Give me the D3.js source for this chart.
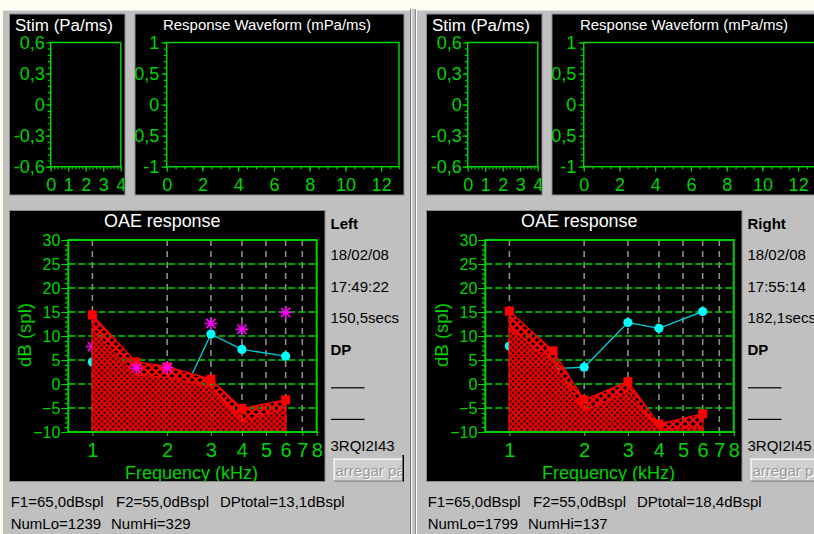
<!DOCTYPE html>
<html><head><meta charset="utf-8">
<script src="https://cdn.jsdelivr.net/npm/d3@7"></script>
<style>
html,body{margin:0;padding:0;background:#c0c0c0;overflow:hidden}
svg{display:block}
text{font-family:"Liberation Sans",Arial,sans-serif}
</style></head><body>
<svg id="c" width="814" height="534"></svg>
<script>
// ---------------- data ----------------
const freqs = [1, 1.5, 2, 3, 4, 6];             // kHz
const leftDP    = [4.6, -3.0, -9.0, 10.4, 7.2, 5.8];
const leftStar  = [7.8, 3.3, 3.4, 12.6, 11.4, 14.9];
const leftUpper = [14.4, 4.6, 3.6, 1.0, -5.1, -3.3];
const leftLower = [11.2, 1.9, 1.4, -0.6, -7.9, -4.9];
const rightDP    = [7.9, 3.2, 3.5, 12.8, 11.6, 15.1];
const rightStar  = [];
const rightUpper = [15.2, 6.9, -3.3, 0.5, -8.3, -6.2];
const rightLower = [11.8, 4.5, -5.6, -1.5, -9.4, -9.0];

const freqTicks = [1, 2, 3, 4, 5, 6, 7, 8];
const freqGrid  = [1, 2, 3, 4, 5, 6, 7];
const dbTicks   = [30, 25, 20, 15, 10, 5, 0, -5, -10];
const dbGrid    = [25, 20, 15, 10, 5, 0, -5];
const stimYTicks = [0.6, 0.3, 0, -0.3, -0.6];
const stimXTicks = [0, 1, 2, 3, 4];
const respYTicks = [1, 0.5, 0, -0.5, -1];
const respXTicks = [0, 2, 4, 6, 8, 10, 12];

const earLabels  = ["Left", "Right"];
const dates      = ["18/02/08", "18/02/08"];
const times      = ["17:49:22", "17:55:14"];
const durations  = ["150,5secs", "182,1secs"];
const ids        = ["3RQI2I43", "3RQI2I45"];
const f1Text     = ["F1=65,0dBspl", "F1=65,0dBspl"];
const f2Text     = ["F2=55,0dBspl", "F2=55,0dBspl"];
const dpTotal    = ["DPtotal=13,1dBspl", "DPtotal=18,4dBspl"];
const numLo      = ["NumLo=1239", "NumLo=1799"];
const numHi      = ["NumHi=329", "NumHi=137"];

// ---------------- setup ----------------
const G = "#00d400";
const W = 814, H = 534;
const svg = d3.select("#c");
const loc = d3.formatLocale({decimal: ",", thousands: ".", grouping: [3], currency: ["", ""], minus: "-"});
const fmt = loc.format("~g");

svg.append("rect").attr("width", W).attr("height", H).attr("fill", "#c0c0c0");
svg.append("rect").attr("width", W).attr("height", 9).attr("fill", "#fffff0");
svg.append("rect").attr("width", 3).attr("height", H).attr("fill", "#fffff0");
svg.append("rect").attr("x", 3).attr("y", 9).attr("width", 407).attr("height", 1.5).attr("fill", "#ffffff");
svg.append("rect").attr("x", 416).attr("y", 9).attr("width", 398).attr("height", 1.5).attr("fill", "#ffffff");
svg.append("rect").attr("x", 410).attr("y", 9).attr("width", 1.2).attr("height", H).attr("fill", "#7a7a7a");
svg.append("rect").attr("x", 411.2).attr("y", 9).attr("width", 1).attr("height", H).attr("fill", "#ffffff");
svg.append("rect").attr("x", 415).attr("y", 9).attr("width", 1).attr("height", H).attr("fill", "#8a8a8a");
svg.append("rect").attr("x", 416).attr("y", 9).attr("width", 1).attr("height", H).attr("fill", "#ffffff");

const defs = svg.append("defs");
const chk = defs.append("pattern").attr("id", "chk").attr("patternUnits", "userSpaceOnUse")
  .attr("width", 4).attr("height", 4).attr("patternTransform", "rotate(45)");
chk.append("rect").attr("width", 4).attr("height", 4).attr("fill", "#ff0000");
chk.append("rect").attr("x", 0.6).attr("y", 0.6).attr("width", 2.2).attr("height", 2.2).attr("fill", "#000");

const hx = defs.append("pattern").attr("id", "hx").attr("patternUnits", "userSpaceOnUse")
  .attr("width", 8).attr("height", 8);
hx.append("path").attr("d", "M0,0L8,8M8,0L0,8")
  .attr("stroke", "#ff0000").attr("stroke-width", 2.3).attr("stroke-linecap", "square");

function box(g, x, y, w, h) {
  g.append("rect").attr("x", x).attr("y", y).attr("width", w).attr("height", h)
    .attr("fill", "#000").attr("stroke", "#8c8c8c").attr("stroke-width", 1);
}
function styleAxis(ax, fs) {
  ax.attr("font-size", fs).attr("font-family", '"Liberation Sans",Arial,sans-serif').attr("color", G);
  ax.select(".domain").remove();
  ax.selectAll("line").attr("stroke", G).attr("stroke-width", 1.2);
}

function drawPanel(i, dx, dp, stars, upper, lower) {
  const g = svg.append("g").attr("transform", `translate(${dx},0)`);

  // ---------- Stim ----------
  const cs = defs.append("clipPath").attr("id", "cs" + i);
  cs.append("rect").attr("x", 9.5).attr("y", 14).attr("width", 115.5).attr("height", 181);
  box(g, 9.5, 14, 115.5, 181);
  const gs = g.append("g").attr("clip-path", `url(#cs${i})`);
  gs.append("text").attr("x", 15).attr("y", 31).attr("fill", "#fff").attr("font-size", 16)
    .attr("textLength", 98).attr("lengthAdjust", "spacingAndGlyphs").text("Stim (Pa/ms)");
  const sx = d3.scaleLinear().domain([0, 4]).range([50.7, 120.7]);
  const sy = d3.scaleLinear().domain([-0.6, 0.6]).range([166.7, 42.5]);
  gs.append("g").attr("transform", `translate(${sx(0)},0)`)
    .call(d3.axisLeft(sy).tickValues(d3.range(-0.6, 0.6001, 0.06)).tickSize(3).tickFormat(""))
    .call(a => styleAxis(a, 18));
  gs.append("g").attr("transform", `translate(${sx(0)},0)`)
    .call(d3.axisLeft(sy).tickValues(stimYTicks).tickSize(5).tickPadding(1).tickFormat(fmt))
    .call(a => styleAxis(a, 18));
  gs.append("g").attr("transform", `translate(0,${sy(-0.6)})`)
    .call(d3.axisBottom(sx).tickValues(d3.range(0, 4.001, 0.2)).tickSize(2.5).tickFormat(""))
    .call(a => styleAxis(a, 18));
  gs.append("g").attr("transform", `translate(0,${sy(-0.6)})`)
    .call(d3.axisBottom(sx).tickValues(stimXTicks).tickSize(5).tickPadding(6.6).tickFormat(fmt))
    .call(a => styleAxis(a, 18));
  gs.append("rect").attr("x", sx(0)).attr("y", sy(0.6)).attr("width", sx(4) - sx(0)).attr("height", sy(-0.6) - sy(0.6))
    .attr("fill", "none").attr("stroke", G).attr("stroke-width", 1.5);

  // ---------- Response waveform ----------
  const cr = defs.append("clipPath").attr("id", "cr" + i);
  cr.append("rect").attr("x", 135).attr("y", 14).attr("width", 269).attr("height", 181);
  box(g, 135, 14, 269, 181);
  const gr = g.append("g").attr("clip-path", `url(#cr${i})`);
  gr.append("text").attr("x", 163).attr("y", 30).attr("fill", "#fff").attr("font-size", 15)
    .attr("textLength", 208).attr("lengthAdjust", "spacingAndGlyphs").text("Response Waveform (mPa/ms)");
  const rx = d3.scaleLinear().domain([0, 13]).range([166.7, 399]);
  const ry = d3.scaleLinear().domain([-1, 1]).range([166.7, 42.5]);
  gr.append("g").attr("transform", `translate(${rx(0)},0)`)
    .call(d3.axisLeft(ry).tickValues(d3.range(-1, 1.001, 0.1)).tickSize(3).tickFormat(""))
    .call(a => styleAxis(a, 18));
  gr.append("g").attr("transform", `translate(${rx(0)},0)`)
    .call(d3.axisLeft(ry).tickValues(respYTicks).tickSize(5).tickPadding(2.4).tickFormat(fmt))
    .call(a => styleAxis(a, 18));
  gr.append("g").attr("transform", `translate(0,${ry(-1)})`)
    .call(d3.axisBottom(rx).tickValues(d3.range(0, 13.001, 0.5)).tickSize(2.5).tickFormat(""))
    .call(a => styleAxis(a, 18));
  gr.append("g").attr("transform", `translate(0,${ry(-1)})`)
    .call(d3.axisBottom(rx).tickValues(respXTicks).tickSize(5).tickPadding(6.6).tickFormat(fmt))
    .call(a => styleAxis(a, 18));
  gr.append("rect").attr("x", rx(0)).attr("y", ry(1)).attr("width", rx(13) - rx(0)).attr("height", ry(-1) - ry(1))
    .attr("fill", "none").attr("stroke", G).attr("stroke-width", 1.5);

  // ---------- OAE response ----------
  const co = defs.append("clipPath").attr("id", "co" + i);
  co.append("rect").attr("x", 9.5).attr("y", 210.5).attr("width", 315.5).attr("height", 271);
  box(g, 9.5, 210.5, 315.5, 271);
  const go = g.append("g").attr("clip-path", `url(#co${i})`);
  go.append("text").attr("x", 104).attr("y", 227.3).attr("fill", "#fff").attr("font-size", 18)
    .attr("textLength", 116.5).attr("lengthAdjust", "spacingAndGlyphs").text("OAE response");
  const x = d3.scaleLog().domain([0.8, 8]).range([68.3, 316.7]);
  const y = d3.scaleLinear().domain([-10, 30]).range([432, 240]);

  const pc = defs.append("clipPath").attr("id", "pc" + i);
  pc.append("rect").attr("x", x(0.8)).attr("y", y(30)).attr("width", x(8) - x(0.8)).attr("height", y(-10) - y(30));
  const gp = go.append("g").attr("clip-path", `url(#pc${i})`);

  // grid
  gp.selectAll(".vg").data(freqGrid).join("line")
    .attr("x1", d => x(d)).attr("x2", d => x(d)).attr("y1", y(30)).attr("y2", y(-10))
    .attr("stroke", "#8e8e8e").attr("stroke-width", 1.6).attr("stroke-dasharray", "6,5");
  gp.selectAll(".hg").data(dbGrid).join("line")
    .attr("x1", x(0.8)).attr("x2", x(8)).attr("y1", d => y(d)).attr("y2", d => y(d))
    .attr("stroke", G).attr("stroke-width", 1.7).attr("stroke-dasharray", "7,3");

  const pts = v => freqs.map((f, k) => ({f, v: v[k]}));
  // DP line (cyan)
  gp.append("path").datum(pts(dp))
    .attr("d", d3.line().x(d => x(d.f)).y(d => y(d.v)))
    .attr("fill", "none").attr("stroke", "#00c8d0").attr("stroke-width", 1.4);
  gp.selectAll(".dpc").data(pts(dp)).join("circle")
    .attr("cx", d => x(d.f)).attr("cy", d => y(d.v)).attr("r", 4.6).attr("fill", "#00ffff");

  // noise band (upper) crosshatch
  const areaOf = d3.area().x(d => x(d.f)).y0(y(-10)).y1(d => y(d.v));
  gp.append("path").datum(pts(upper)).attr("d", areaOf)
    .attr("fill", "url(#hx)").attr("stroke", "#ff0000").attr("stroke-width", 1.3);

  // squares
  gp.selectAll(".sq").data(pts(upper)).join("rect")
    .attr("x", d => x(d.f) - 4.5).attr("y", d => y(d.v) - 4.5).attr("width", 9).attr("height", 9)
    .attr("fill", "#ff0000");

  // stars
  const star = d3.path();
  const s = 6.5, s2 = 4.6;
  star.moveTo(-s, 0); star.lineTo(s, 0);
  star.moveTo(0, -s); star.lineTo(0, s);
  star.moveTo(-s2, -s2); star.lineTo(s2, s2);
  star.moveTo(-s2, s2); star.lineTo(s2, -s2);
  gp.selectAll(".st").data(stars.map((v, k) => ({f: freqs[k], v}))).join("path")
    .attr("transform", d => `translate(${x(d.f)},${y(d.v)})`)
    .attr("d", star.toString()).attr("stroke", "#ff00ff").attr("stroke-width", 1.6).attr("fill", "none");

  // lower area fine checker
  gp.append("path").datum(pts(lower)).attr("d", areaOf)
    .attr("fill", "url(#chk)").attr("stroke", "#ff0000").attr("stroke-width", 1.2);

  // axes
  go.append("g").attr("transform", `translate(${x(0.8)},0)`)
    .call(d3.axisLeft(y).tickValues(d3.range(-10, 30.001, 1)).tickSize(3.5).tickFormat(""))
    .call(a => styleAxis(a, 16));
  go.append("g").attr("transform", `translate(${x(0.8)},0)`)
    .call(d3.axisLeft(y).tickValues(dbTicks).tickSize(7).tickPadding(1).tickFormat(d3.format("d")))
    .call(a => styleAxis(a, 16));
  go.append("g").attr("transform", `translate(0,${y(-10)})`)
    .call(d3.axisBottom(x).tickValues(freqTicks).tickSize(4).tickPadding(6.7).tickFormat(d3.format("d")))
    .call(a => styleAxis(a, 20));
  go.append("rect").attr("x", x(0.8)).attr("y", y(30)).attr("width", x(8) - x(0.8)).attr("height", y(-10) - y(30))
    .attr("fill", "none").attr("stroke", G).attr("stroke-width", 2);
  go.append("text").attr("x", 125).attr("y", 478.5).attr("fill", G).attr("font-size", 18)
    .attr("textLength", 133).attr("lengthAdjust", "spacingAndGlyphs").text("Frequency (kHz)");
  go.append("text").attr("transform", "translate(31,335) rotate(-90)").attr("text-anchor", "middle")
    .attr("fill", G).attr("font-size", 18).attr("textLength", 64).attr("lengthAdjust", "spacingAndGlyphs")
    .text("dB (spl)");

  // ---------- side text ----------
  const tx = 330.5;
  g.append("text").attr("x", tx).attr("y", 228.5).attr("font-size", 15).attr("font-weight", "bold").attr("fill", "#000").text(earLabels[i]);
  g.append("text").attr("x", tx).attr("y", 259.5).attr("font-size", 15).attr("fill", "#000").text(dates[i]);
  g.append("text").attr("x", tx).attr("y", 291.7).attr("font-size", 15).attr("fill", "#000").text(times[i]);
  g.append("text").attr("x", tx).attr("y", 323.3).attr("font-size", 15).attr("fill", "#000").text(durations[i]);
  g.append("text").attr("x", tx).attr("y", 355).attr("font-size", 15).attr("font-weight", "bold").attr("fill", "#000").text("DP");
  g.append("rect").attr("x", 331).attr("y", 387.2).attr("width", 33.5).attr("height", 1.2).attr("fill", "#000");
  g.append("rect").attr("x", 331).attr("y", 418.8).attr("width", 33.5).attr("height", 1.2).attr("fill", "#000");
  g.append("text").attr("x", tx).attr("y", 450.8).attr("font-size", 15).attr("fill", "#000").text(ids[i]);

  // button
  const cb = defs.append("clipPath").attr("id", "cb" + i);
  cb.append("rect").attr("x", 334).attr("y", 459).attr("width", 67.5).attr("height", 22);
  g.append("rect").attr("x", 333.5).attr("y", 458.5).attr("width", 69).attr("height", 23).attr("fill", "#cfcfcf");
  g.append("rect").attr("x", 333.5).attr("y", 458.5).attr("width", 69).attr("height", 1.2).attr("fill", "#fff");
  g.append("rect").attr("x", 333.5).attr("y", 458.5).attr("width", 1.2).attr("height", 23).attr("fill", "#fff");
  g.append("rect").attr("x", 333.5).attr("y", 480.5).attr("width", 69).attr("height", 1.2).attr("fill", "#808080");
  g.append("rect").attr("x", 402.5).attr("y", 455).attr("width", 1.5).attr("height", 26.5).attr("fill", "#000");
  const gb = g.append("g").attr("clip-path", `url(#cb${i})`);
  gb.append("text").attr("x", 336.5).attr("y", 477).attr("font-size", 15).attr("fill", "#fff").text("arregar pá");
  gb.append("text").attr("x", 335.5).attr("y", 476).attr("font-size", 15).attr("fill", "#9a9a9a").text("arregar pá");

  // bottom text
  g.append("text").attr("x", 10.7).attr("y", 506.7).attr("font-size", 15).attr("fill", "#000").text(f1Text[i]);
  g.append("text").attr("x", 116).attr("y", 506.7).attr("font-size", 15).attr("fill", "#000").text(f2Text[i]);
  g.append("text").attr("x", 220).attr("y", 506.7).attr("font-size", 15).attr("fill", "#000").text(dpTotal[i]);
  g.append("text").attr("x", 10.7).attr("y", 529).attr("font-size", 15).attr("fill", "#000").text(numLo[i]);
  g.append("text").attr("x", 111).attr("y", 529).attr("font-size", 15).attr("fill", "#000").text(numHi[i]);
}

drawPanel(0, 0, leftDP, leftStar, leftUpper, leftLower);
drawPanel(1, 417, rightDP, rightStar, rightUpper, rightLower);
</script>
</body></html>
